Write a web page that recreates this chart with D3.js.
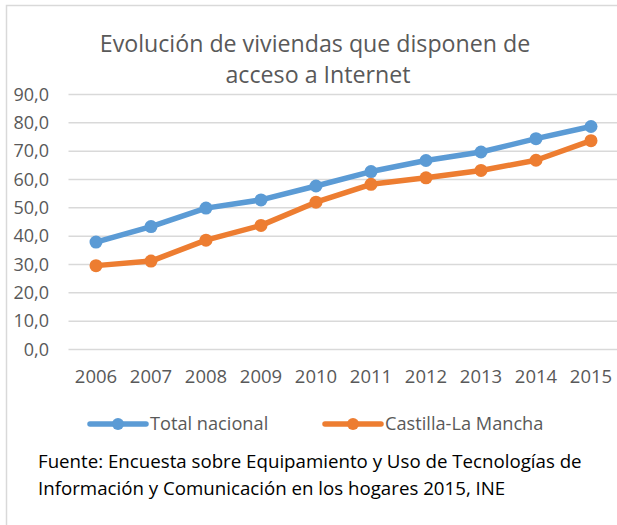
<!DOCTYPE html>
<html>
<head>
<meta charset="utf-8">
<title>Evolución de viviendas</title>
<script src="https://cdn.jsdelivr.net/npm/d3@7"></script>
<style>
  body { margin: 0; background: #fff; }
  text { font-family: "Open Sans", sans-serif; }
</style>
</head>
<body>
<div id="chart"></div>
<script>
  var years = ["2006", "2007", "2008", "2009", "2010", "2011", "2012", "2013", "2014", "2015"];
  var totalNacional = [37.9, 43.4, 49.9, 52.8, 57.7, 62.8, 66.7, 69.7, 74.4, 78.7];
  var castilla = [29.6, 31.2, 38.6, 43.8, 52.0, 58.3, 60.6, 63.2, 66.8, 73.7];
  var yTicks = [0, 10, 20, 30, 40, 50, 60, 70, 80, 90];
  var seriesNames = ["Total nacional", "Castilla-La Mancha"];
  var colors = ["#5B9BD5", "#ED7D31"];

  var W = 617, H = 525;
  var svg = d3.select("#chart").append("svg")
    .attr("width", W)
    .attr("height", H);

  // outer frame (cut off on right / bottom like the screenshot)
  svg.append("rect")
    .attr("x", 6.5).attr("y", 5.5)
    .attr("width", 640).attr("height", 560)
    .attr("fill", "#fff")
    .attr("stroke", "#D9D9D9")
    .attr("stroke-width", 1.5);

  svg.append("text")
    .attr("x", 315).attr("y", 52)
    .attr("text-anchor", "middle")
    .attr("font-size", 23.2)
    .attr("fill", "#595959")
    .text("Evolución de viviendas que disponen de");
  svg.append("text")
    .attr("x", 318).attr("y", 83)
    .attr("text-anchor", "middle")
    .attr("font-size", 23.2)
    .attr("fill", "#595959")
    .text("acceso a Internet");

  var x = d3.scaleBand().domain(years).range([68.5, 618.5]);
  var y = d3.scaleLinear().domain([0, 90]).range([349.5, 94.5]);

  // gridlines
  svg.append("g").selectAll("line")
    .data(yTicks)
    .enter().append("line")
    .attr("x1", 68.5).attr("x2", W)
    .attr("y1", function(d) { return y(d); })
    .attr("y2", function(d) { return y(d); })
    .attr("stroke", "#D9D9D9")
    .attr("stroke-width", 1.5);

  var yaxis = d3.axisLeft(y)
    .tickValues(yTicks)
    .tickSize(0)
    .tickPadding(0)
    .tickFormat(function(d) { return d3.format(".1f")(d).replace(".", ","); });
  var gy = svg.append("g")
    .attr("transform", "translate(49,0)")
    .call(yaxis);
  gy.select(".domain").remove();
  gy.selectAll("text")
    .attr("font-size", 18)
    .attr("font-family", "Open Sans")
    .attr("fill", "#595959");

  var xaxis = d3.axisBottom(x).tickSize(0).tickPadding(0);
  var gx = svg.append("g")
    .attr("transform", "translate(0,370)")
    .call(xaxis);
  gx.select(".domain").remove();
  gx.selectAll("text")
    .attr("font-size", 18.5)
    .attr("font-family", "Open Sans")
    .attr("fill", "#595959");

  var line = d3.line()
    .x(function(d, i) { return x(years[i]) + x.bandwidth() / 2; })
    .y(function(d) { return y(d); });

  [totalNacional, castilla].forEach(function(vals, k) {
    var g = svg.append("g");
    g.append("path")
      .datum(vals)
      .attr("d", line)
      .attr("fill", "none")
      .attr("stroke", colors[k])
      .attr("stroke-width", 5.5)
      .attr("stroke-linejoin", "round")
      .attr("stroke-linecap", "round");
    g.selectAll("circle")
      .data(vals)
      .enter().append("circle")
      .attr("cx", function(d, i) { return x(years[i]) + x.bandwidth() / 2; })
      .attr("cy", function(d) { return y(d); })
      .attr("r", 6.5)
      .attr("fill", colors[k]);
  });

  // legend
  var legX = [90, 325];
  seriesNames.forEach(function(name, k) {
    var g = svg.append("g").attr("transform", "translate(" + legX[k] + ",424)");
    g.append("line")
      .attr("x1", 0).attr("x2", 56)
      .attr("stroke", colors[k])
      .attr("stroke-width", 5.5)
      .attr("stroke-linecap", "round");
    g.append("circle")
      .attr("cx", 28).attr("r", 6)
      .attr("fill", colors[k]);
    g.append("text")
      .attr("x", 60).attr("y", 6)
      .attr("font-size", 18.2)
      .attr("fill", "#595959")
      .text(name);
  });

  svg.append("text")
    .attr("x", 38).attr("y", 468)
    .attr("font-size", 18.7)
    .attr("fill", "#000")
    .text("Fuente: Encuesta sobre Equipamiento y Uso de Tecnologías de");
  svg.append("text")
    .attr("x", 38).attr("y", 495)
    .attr("font-size", 18.7)
    .attr("fill", "#000")
    .text("Información y Comunicación en los hogares 2015, INE");
</script>
</body>
</html>
